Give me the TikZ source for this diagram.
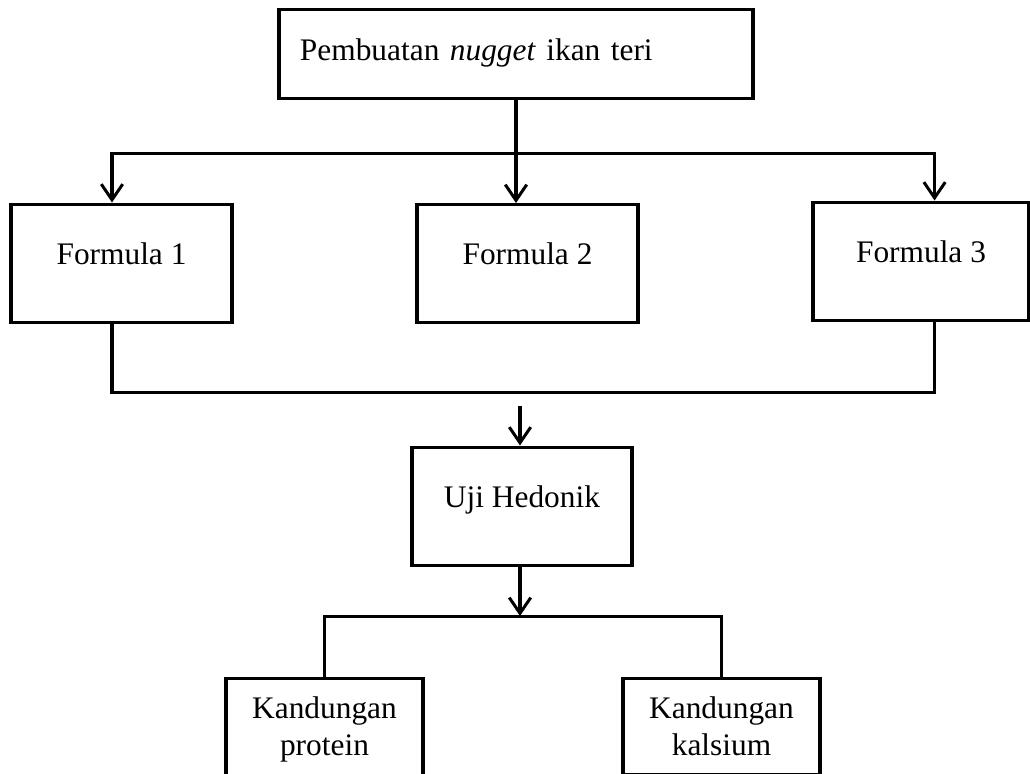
\documentclass[tikz,border=0pt]{standalone}
\usepackage{fontspec}
\setmainfont{Liberation Serif}
\usetikzlibrary{arrows.meta}

\begin{document}
\begin{tikzpicture}[
  line width=1.2pt,
  box/.style={draw, font=\fontsize{12.5}{14.7}\selectfont, minimum height=1.652cm, text height=8.5pt, text depth=7.5pt},
  lowbox/.style={draw, font=\fontsize{12.5}{14.7}\selectfont, align=center, anchor=north, minimum width=2.758cm, inner ysep=0.26cm},
  arr/.style={-{Straight Barb[length=2.2mm, width=3mm]}},
  line/.style={-}
]
\useasboundingbox (0,0) rectangle (14.42,-10.822);
\clip (0,0) rectangle (14.42,-10.822);
\node[draw, font=\fontsize{12.5}{14.7}\selectfont, minimum width=6.636cm, text width=6.048cm, align=left, inner xsep=0.294cm, inner ysep=0pt, text height=0.714cm, text depth=0.532cm] (n0) at (7.224,-0.749) {Pembuatan \textit{nugget} ikan teri};
\node[box, minimum width=3.094cm] (f1) at (1.701,-3.682) {Formula 1};
\node[box, minimum width=3.094cm] (f2) at (7.385,-3.689) {Formula 2};
\node[box, minimum width=3.024cm] (f3) at (12.894,-3.654) {Formula 3};
\node[box, minimum width=3.08cm] (uji) at (7.308,-7.084) {Uji Hedonik};
\node[lowbox] (k1) at (4.543,-9.478) {Kandungan\\protein};
\node[lowbox] (k2) at (10.101,-9.478) {Kandungan\\kalsium};
\coordinate (j1) at (7.224,-2.142);
\coordinate (j2) at (7.28,-5.488);
\coordinate (j3) at (7.28,-5.684);
\coordinate (j4) at (7.28,-8.624);
\draw[line] (n0.south) -- (j1);
\draw[arr] (j1) -| ([xshift=-0.133cm]f1.north);
\draw[arr] (j1) -- (j1 |- f2.north);
\draw[arr] (j1) -| ([xshift=0.19cm]f3.north);
\draw[line] ([xshift=-0.133cm]f1.south) |- (j2) -| ([xshift=0.19cm]f3.south);
\draw[arr] (j3) -- (j3 |- uji.north);
\draw[arr] (uji.south -| j4) -- (j4);
\draw[line] (k1.north) |- (j4) -| (k2.north);
\end{tikzpicture}
\end{document}
